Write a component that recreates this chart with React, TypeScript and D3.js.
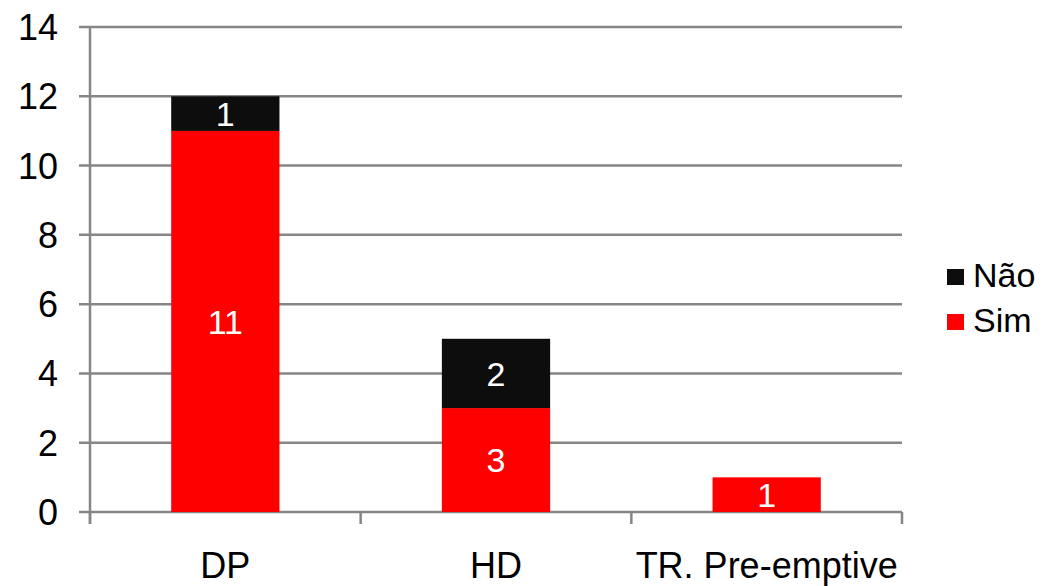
import React from "react";
import * as d3 from "d3";

const categories = ["DP", "HD", "TR. Pre-emptive"];
const simValues = [11, 3, 1];
const naoValues = [1, 2, 0];
const yTicks = [0, 2, 4, 6, 8, 10, 12, 14];
const seriesNames = ["Não", "Sim"];
const seriesColors = ["#0d0d0d", "#ff0000"];

const W = 1044;
const H = 586;
const left = 90;
const right = 902;
const top = 27;
const bottom = 512;
const gray = "#868686";
const font = "'Liberation Sans', Arial, sans-serif";

export default function App() {
  const x = d3.scaleBand<string>().domain(categories).range([left, right]).paddingInner(0.6).paddingOuter(0.3);
  const band = d3.scaleBand<string>().domain(categories).range([left, right]);
  const y = d3.scaleLinear().domain([0, 14]).range([bottom, top]);

  const rows = categories.map((c, i) => ({ cat: c, Sim: simValues[i], Nao: naoValues[i] }));
  const stack = d3.stack<any>().keys(["Sim", "Nao"])(rows);
  const colorFor = (k: string) => (k === "Sim" ? seriesColors[1] : seriesColors[0]);

  const boundaries = [left, ...categories.map((c) => (band(c) as number) + band.bandwidth())];

  return (
    <svg width={W} height={H} style={{ position: "absolute", left: 0, top: 0, background: "#fff" }} fontFamily={font}>
      {yTicks.map((t) => (
        <g key={t}>
          <line x1={79} x2={right} y1={y(t)} y2={y(t)} stroke={gray} strokeWidth={2.5} />
          <text x={58} y={y(t)} dy="0.36em" textAnchor="end" fontSize={36} fill="#000">
            {t}
          </text>
        </g>
      ))}
      <line x1={left} x2={left} y1={top} y2={524} stroke={gray} strokeWidth={2.5} />
      {boundaries.map((b, i) => (
        <line key={i} x1={b} x2={b} y1={bottom} y2={524} stroke={gray} strokeWidth={2.5} />
      ))}
      {stack.map((layer) =>
        layer.map((d, i) => {
          const v = d[1] - d[0];
          if (v <= 0) return null;
          const bx = x(categories[i]) as number;
          const bw = x.bandwidth();
          const y0 = y(d[0]);
          const y1 = y(d[1]);
          return (
            <g key={layer.key + i}>
              <rect x={bx} y={y1} width={bw} height={y0 - y1} fill={colorFor(layer.key)} />
              <text x={bx + bw / 2} y={(y0 + y1) / 2} dy="0.36em" textAnchor="middle" fontSize={34} fill="#fff">
                {v}
              </text>
            </g>
          );
        })
      )}
      {categories.map((c) => (
        <text key={c} x={(band(c) as number) + band.bandwidth() / 2} y={578} textAnchor="middle" fontSize={36} fill="#000">
          {c}
        </text>
      ))}
      {seriesNames.map((s, i) => (
        <g key={s} transform={`translate(947, ${269 + i * 45})`}>
          <rect x={0} y={0} width={17} height={16} fill={seriesColors[i]} />
          <text x={26} y={18} fontSize={34} fill="#000">
            {s}
          </text>
        </g>
      ))}
    </svg>
  );
}
